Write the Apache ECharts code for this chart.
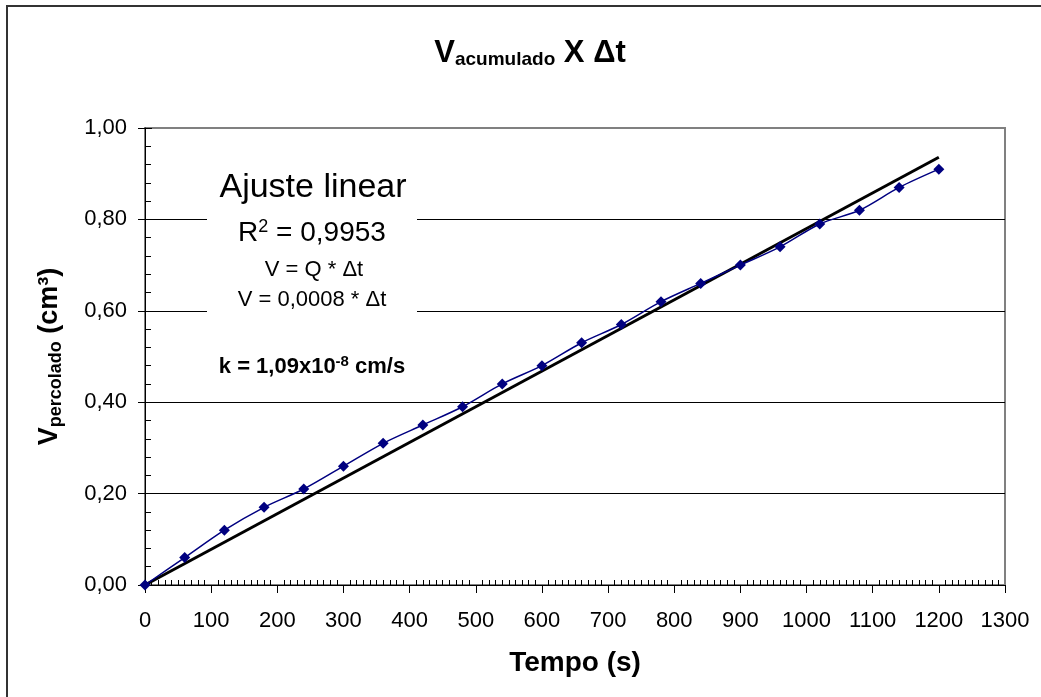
<!doctype html>
<html>

<head>
    <meta charset="utf-8">
    <title>V acumulado x tempo</title>
    <script src="https://cdn.jsdelivr.net/npm/echarts@6/dist/echarts.min.js"></script>
    <style>
        html, body {
            margin: 0;
            padding: 0;
            background: white;
        }
        #container {
            height: 697px;
            width: 1041px;
        }
    </style>
</head>

<body>

    <div id="container"></div>

    <script type="text/javascript">
        // tempo (s) das leituras
        var tempo = [0, 60, 120, 180, 240, 300, 360, 420, 480, 540, 600, 660, 720, 780, 840, 900, 960, 1020, 1080, 1140, 1200];
        // volume percolado acumulado (cm3)
        var volume = [0, 0.06, 0.12, 0.17, 0.21, 0.26, 0.31, 0.35, 0.39, 0.44, 0.48, 0.53, 0.57, 0.62, 0.66, 0.70, 0.74, 0.79, 0.82, 0.87, 0.91];
        // reta de ajuste linear (inicio e fim)
        var ajusteT = [0, 1200];
        var ajusteV = [0, 0.936];
        // rotulos dos eixos
        var xTicks = [0, 100, 200, 300, 400, 500, 600, 700, 800, 900, 1000, 1100, 1200, 1300];
        var yTicks = ['0,00', '0,20', '0,40', '0,60', '0,80', '1,00'];

        var fonte = '"Liberation Sans", Arial, sans-serif';

        var pontos = [];
        for (var i = 0; i < tempo.length; i++) {
            pontos.push([tempo[i], volume[i]]);
        }
        var reta = [];
        for (var j = 0; j < ajusteT.length; j++) {
            reta.push([ajusteT[j], ajusteV[j]]);
        }

        // area de plotagem: 860 x 457 px
        var option = {
            animation: false,
            backgroundColor: '#fff',
            grid: [{
                left: 145,
                right: 36,
                top: 128,
                bottom: 112,
                show: true,
                borderColor: '#808080',
                borderWidth: 2,
                backgroundColor: 'transparent'
            }, {
                // grid auxiliar encostado no eixo y
                left: 145,
                right: 851,
                top: 128,
                bottom: 112,
                show: false
            }],
            xAxis: [{
                type: 'value',
                min: 0,
                max: 1300,
                interval: 100,
                name: 'Tempo (s)',
                nameLocation: 'middle',
                nameGap: 64,
                nameTextStyle: { fontFamily: fonte, fontWeight: 'bold', fontSize: 28, color: '#000' },
                axisLine: { lineStyle: { color: '#000', width: 1 } },
                axisTick: { length: 8, lineStyle: { color: '#000' } },
                minorTick: { show: false },
                axisLabel: {
                    margin: 25,
                    fontFamily: fonte,
                    fontSize: 22,
                    color: '#000',
                    formatter: function (v) { return xTicks.indexOf(v) >= 0 ? String(v) : ''; }
                },
                splitLine: { show: false }
            }, {
                // eixo auxiliar no topo, deslocado ate a base: tracos menores para dentro
                type: 'value',
                position: 'top',
                offset: -457,
                min: 0,
                max: 1300,
                interval: 100,
                axisLine: { show: false },
                axisTick: { show: false },
                axisLabel: { show: false },
                minorTick: { show: true, splitNumber: 10, length: 5, lineStyle: { color: '#000' } },
                splitLine: { show: false }
            }, {
                gridIndex: 1,
                type: 'value',
                show: false,
                min: 0,
                max: 1
            }],
            yAxis: [{
                type: 'value',
                position: 'left',
                min: 0,
                max: 1,
                interval: 0.2,
                name: '{v|V}{s|percolado}{v| (cm³)}',
                nameLocation: 'middle',
                nameGap: 80,
                nameTextStyle: {
                    color: '#000',
                    rich: {
                        v: { fontFamily: fonte, fontWeight: 'bold', fontSize: 27, lineHeight: 30, color: '#000' },
                        s: { fontFamily: fonte, fontWeight: 'bold', fontSize: 18, lineHeight: 14, verticalAlign: 'bottom', color: '#000' }
                    }
                },
                axisLine: { show: true, lineStyle: { color: '#000', width: 1 } },
                axisTick: { show: true, length: 7, lineStyle: { color: '#000' } },
                minorTick: { show: false },
                axisLabel: {
                    margin: 18,
                    fontFamily: fonte,
                    fontSize: 22,
                    color: '#000',
                    formatter: function (v) { return yTicks[Math.round(v * 5)]; }
                },
                splitLine: {
                    show: true,
                    showMinLine: false,
                    showMaxLine: false,
                    lineStyle: { color: '#000', width: 1 }
                }
            }, {
                // tracos para dentro da area de plotagem
                gridIndex: 1,
                type: 'value',
                position: 'right',
                min: 0,
                max: 1,
                interval: 0.2,
                axisLine: { show: false },
                axisTick: { show: true, length: 7, lineStyle: { color: '#000' } },
                axisLabel: { show: false },
                minorTick: { show: true, splitNumber: 5, length: 6, lineStyle: { color: '#000' } },
                splitLine: { show: false }
            }],
            series: [{
                name: 'Ajuste',
                type: 'line',
                data: reta,
                showSymbol: false,
                lineStyle: { color: '#000', width: 3 },
                z: 3
            }, {
                name: 'V acumulado',
                type: 'line',
                data: pontos,
                smooth: 0.3,
                symbol: 'diamond',
                symbolSize: 11,
                itemStyle: { color: '#000080' },
                lineStyle: { color: '#000080', width: 1.5 },
                z: 4
            }],
            graphic: [{
                // borda externa do grafico
                type: 'rect',
                shape: { x: 7, y: 6, width: 1100, height: 760 },
                style: { fill: 'none', stroke: '#333', lineWidth: 2 },
                z: 10
            }, {
                type: 'text',
                x: 530,
                y: 37,
                style: {
                    text: '{v|V}{s|acumulado}{v| X Δt}',
                    align: 'center',
                    rich: {
                        v: { fontFamily: fonte, fontWeight: 'bold', fontSize: 31, lineHeight: 32, fill: '#000' },
                        s: { fontFamily: fonte, fontWeight: 'bold', fontSize: 19, lineHeight: 14, verticalAlign: 'bottom', fill: '#000' }
                    }
                },
                z: 10
            }, {
                // caixa branca da anotacao
                type: 'rect',
                shape: { x: 207, y: 168, width: 210, height: 148 },
                style: { fill: '#fff' },
                z: 5
            }, {
                type: 'text',
                x: 313,
                y: 188,
                style: {
                    text: 'Ajuste linear',
                    fontFamily: fonte,
                    fontSize: 34,
                    fill: '#000',
                    align: 'center',
                    verticalAlign: 'middle'
                },
                z: 10
            }, {
                type: 'text',
                x: 312,
                y: 233,
                style: {
                    text: '{n|R}{p|2}{n| = 0,9953}',
                    align: 'center',
                    verticalAlign: 'middle',
                    rich: {
                        n: { fontFamily: fonte, fontSize: 28, lineHeight: 30, fill: '#000' },
                        p: { fontFamily: fonte, fontSize: 18, lineHeight: 14, verticalAlign: 'top', fill: '#000' }
                    }
                },
                z: 10
            }, {
                type: 'text',
                x: 314,
                y: 270,
                style: {
                    text: 'V = Q * Δt',
                    fontFamily: fonte,
                    fontSize: 22,
                    fill: '#000',
                    align: 'center',
                    verticalAlign: 'middle'
                },
                z: 10
            }, {
                type: 'text',
                x: 312,
                y: 300,
                style: {
                    text: 'V = 0,0008 * Δt',
                    fontFamily: fonte,
                    fontSize: 22,
                    fill: '#000',
                    align: 'center',
                    verticalAlign: 'middle'
                },
                z: 10
            }, {
                type: 'text',
                x: 312,
                y: 367,
                style: {
                    text: '{b|k = 1,09x10}{p|-8}{b| cm/s}',
                    align: 'center',
                    verticalAlign: 'middle',
                    rich: {
                        b: { fontFamily: fonte, fontWeight: 'bold', fontSize: 22, lineHeight: 26, fill: '#000' },
                        p: { fontFamily: fonte, fontWeight: 'bold', fontSize: 15, lineHeight: 12, verticalAlign: 'top', fill: '#000' }
                    }
                },
                z: 10
            }]
        };

        var myChart = echarts.init(document.getElementById('container'));
        myChart.setOption(option);
    </script>
</body>

</html>
